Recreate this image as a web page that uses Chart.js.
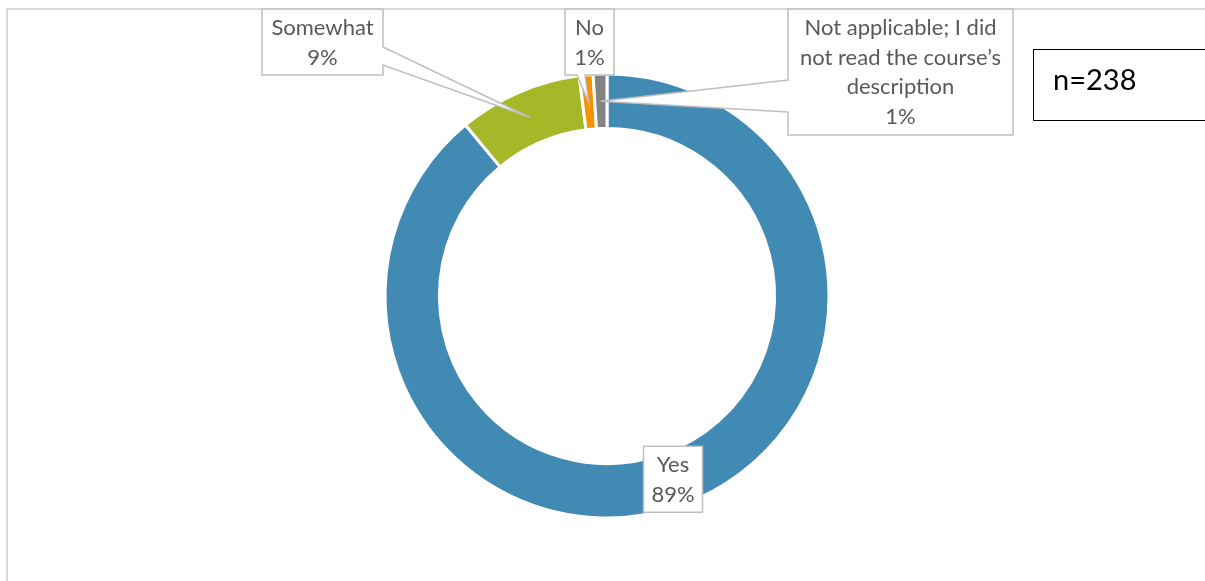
<!DOCTYPE html>
<html>
<head>
<meta charset="utf-8">
<script src="https://cdn.jsdelivr.net/npm/chart.js@4"></script>
<style>
  html, body { margin: 0; padding: 0; background: #fff; }
  #wrap { width: 1205px; height: 581px; position: relative; }
</style>
</head>
<body>
<div id="wrap"><canvas id="chart"></canvas></div>
<script>
// survey answers, share of respondents in %
const categories = ['Yes', 'Somewhat', 'No', 'Not applicable; I did not read the course\u2019s description'];
const labelLines = [['Yes'], ['Somewhat'], ['No'], ['Not applicable; I did', 'not read the course\u2019s', 'description']];
const percents = [89, 9, 1, 1];
const sliceColors = ['#418AB3', '#A6B727', '#F69200', '#838383'];
const sampleSize = 238;

// callout boxes: [x, y, w, h]; pointer leaves the given side between from..to
const callouts = [
  { size: [59, 66] },
  { box: [262, 9, 121, 66], side: 'right', from: 47, to: 65 },
  { box: [565, 9, 49, 66], side: 'bottom', from: 577, to: 585 },
  { box: [788, 9, 225, 126], side: 'left', from: 80, to: 112 },
];

const LABEL_FONT = '22px Lato, "Open Sans", sans-serif';
const LABEL_COLOR = '#595959';

function calloutPath(ctx, c, tip) {
  const [x, y, w, h] = c.box;
  ctx.beginPath();
  ctx.moveTo(x, y);
  ctx.lineTo(x + w, y);
  if (c.side === 'right') {
    ctx.lineTo(x + w, c.from);
    ctx.lineTo(tip.x, tip.y);
    ctx.lineTo(x + w, c.to);
  }
  ctx.lineTo(x + w, y + h);
  if (c.side === 'bottom') {
    ctx.lineTo(c.to, y + h);
    ctx.lineTo(tip.x, tip.y);
    ctx.lineTo(c.from, y + h);
  }
  ctx.lineTo(x, y + h);
  if (c.side === 'left') {
    ctx.lineTo(x, c.to);
    ctx.lineTo(tip.x, tip.y);
    ctx.lineTo(x, c.from);
  }
  ctx.closePath();
}

const calloutPlugin = {
  id: 'callouts',
  beforeDraw(chart) {
    const ctx = chart.ctx;
    ctx.save();
    ctx.strokeStyle = '#d9d9d9';
    ctx.lineWidth = 2;
    ctx.strokeRect(7, 9, 1400, 800);
    ctx.restore();
  },
  afterDraw(chart) {
    const ctx = chart.ctx;
    const arcs = chart.getDatasetMeta(0).data;
    ctx.save();
    arcs.forEach((arc, i) => {
      const c = Object.assign({}, callouts[i]);
      const tip = arc.tooltipPosition();
      if (!c.box) {
        c.box = [tip.x - c.size[0] / 2, tip.y - c.size[1] / 2, c.size[0], c.size[1]];
      }
      calloutPath(ctx, c, tip);
      ctx.fillStyle = '#ffffff';
      ctx.fill();
      ctx.strokeStyle = '#bfbfbf';
      ctx.lineWidth = 1.5;
      ctx.stroke();

      const lines = labelLines[i].concat([percents[i] + '%']);
      const [bx, by, bw] = c.box;
      ctx.fillStyle = LABEL_COLOR;
      ctx.font = LABEL_FONT;
      ctx.textAlign = 'center';
      ctx.textBaseline = 'middle';
      lines.forEach((t, k) => ctx.fillText(t, bx + bw / 2, by + 19 + k * 29.6));
    });

    // sample size note
    ctx.fillStyle = '#ffffff';
    ctx.fillRect(1033.5, 49.5, 200, 71);
    ctx.strokeStyle = '#000000';
    ctx.lineWidth = 1;
    ctx.strokeRect(1033.5, 49.5, 200, 71);
    ctx.fillStyle = '#000000';
    ctx.font = '29px Lato, "Open Sans", sans-serif';
    ctx.textAlign = 'left';
    ctx.textBaseline = 'middle';
    ctx.fillText('n=' + sampleSize, 1053, 81);
    ctx.restore();
  }
};

new Chart(document.getElementById('chart'), {
  type: 'doughnut',
  data: {
    labels: categories,
    datasets: [{
      data: percents,
      backgroundColor: sliceColors,
      borderColor: '#ffffff',
      borderWidth: 3,
    }]
  },
  options: {
    responsive: true,
    maintainAspectRatio: false,
    animation: false,
    radius: 222,
    cutout: '75.5%',
    layout: { padding: { left: 9, right: 0, top: 11, bottom: 0 } },
    plugins: {
      legend: { display: false },
      tooltip: { enabled: false }
    }
  },
  plugins: [calloutPlugin]
});
</script>
</body>
</html>
